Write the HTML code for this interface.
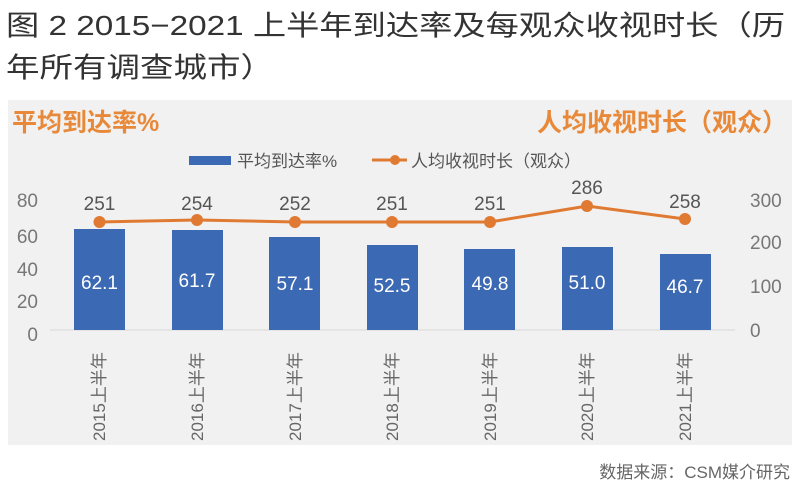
<!DOCTYPE html>
<html><head><meta charset="utf-8"><style>
body{margin:0;background:#fff;}
svg{display:block;font-family:"Liberation Sans","Noto Sans CJK SC",sans-serif;}
</style></head><body>
<svg width="800" height="490" viewBox="0 0 800 490">
<text x="6" y="35" font-size="28" fill="#333" textLength="779" lengthAdjust="spacingAndGlyphs">图 2 2015−2021 上半年到达率及每观众收视时长（历</text>
<text x="6" y="77" font-size="28" fill="#333" textLength="268" lengthAdjust="spacingAndGlyphs">年所有调查城市）</text>
<rect x="8" y="100" width="784" height="345" fill="#f1f1f1"/>
<text x="12" y="131" font-size="25" font-weight="bold" fill="#e8893a">平均到达率%</text>
<text x="787" y="131" font-size="25" font-weight="bold" fill="#e8893a" text-anchor="end">人均收视时长（观众）</text>
<rect x="189" y="156" width="42" height="9" fill="#3c69b3"/>
<text x="237" y="167" font-size="17" fill="#555">平均到达率%</text>
<line x1="372" y1="160" x2="407" y2="160" stroke="#e07a32" stroke-width="3"/>
<circle cx="395" cy="160" r="5" fill="#e07a32"/>
<text x="411" y="167" font-size="17" fill="#555">人均收视时长（观众）</text>
<g font-size="19" fill="#777" text-anchor="end">
<text x="38" y="207">80</text><text x="38" y="243">60</text><text x="38" y="276">40</text><text x="38" y="308">20</text><text x="38" y="341">0</text>
</g>
<g font-size="19" fill="#777" text-anchor="start">
<text x="750" y="207">300</text><text x="750" y="249">200</text><text x="750" y="293">100</text><text x="750" y="337">0</text>
</g>
<line x1="50" y1="330" x2="735" y2="330" stroke="#d8d8d8" stroke-width="1"/>
<g fill="#3c69b3">
<rect x="74" y="229" width="51" height="101"/>
<rect x="172" y="230" width="51" height="100"/>
<rect x="269" y="237" width="51" height="93"/>
<rect x="367" y="245" width="51" height="85"/>
<rect x="464" y="249" width="51" height="81"/>
<rect x="562" y="247" width="51" height="83"/>
<rect x="660" y="254" width="51" height="76"/>
</g>
<g font-size="19" fill="#fff" text-anchor="middle">
<text x="99.5" y="289">62.1</text><text x="197" y="287">61.7</text><text x="295" y="290">57.1</text><text x="392" y="292">52.5</text><text x="490" y="290">49.8</text><text x="587" y="289">51.0</text><text x="685" y="293">46.7</text>
</g>
<polyline points="99.5,222 197,220 295,222 392,222 490,222 587,206 685,219" fill="none" stroke="#e07a32" stroke-width="3"/>
<g fill="#e07a32">
<circle cx="99.5" cy="222" r="6"/><circle cx="197" cy="220" r="6"/><circle cx="295" cy="222" r="6"/><circle cx="392" cy="222" r="6"/><circle cx="490" cy="222" r="6"/><circle cx="587" cy="206" r="6"/><circle cx="685" cy="219" r="6"/>
</g>
<g font-size="19" fill="#555" text-anchor="middle">
<text x="99.5" y="210">251</text><text x="197" y="210">254</text><text x="295" y="210">252</text><text x="392" y="210">251</text><text x="490" y="210">251</text><text x="587" y="194">286</text><text x="685" y="208">258</text>
</g>
<g font-size="17" fill="#666">
<text transform="translate(105,441) rotate(-90)">2015上半年</text>
<text transform="translate(203,441) rotate(-90)">2016上半年</text>
<text transform="translate(301,441) rotate(-90)">2017上半年</text>
<text transform="translate(398,441) rotate(-90)">2018上半年</text>
<text transform="translate(496,441) rotate(-90)">2019上半年</text>
<text transform="translate(593,441) rotate(-90)">2020上半年</text>
<text transform="translate(691,441) rotate(-90)">2021上半年</text>
</g>
<text x="790" y="478" font-size="17" fill="#666" text-anchor="end">数据来源：CSM媒介研究</text>
</svg>
</body></html>
